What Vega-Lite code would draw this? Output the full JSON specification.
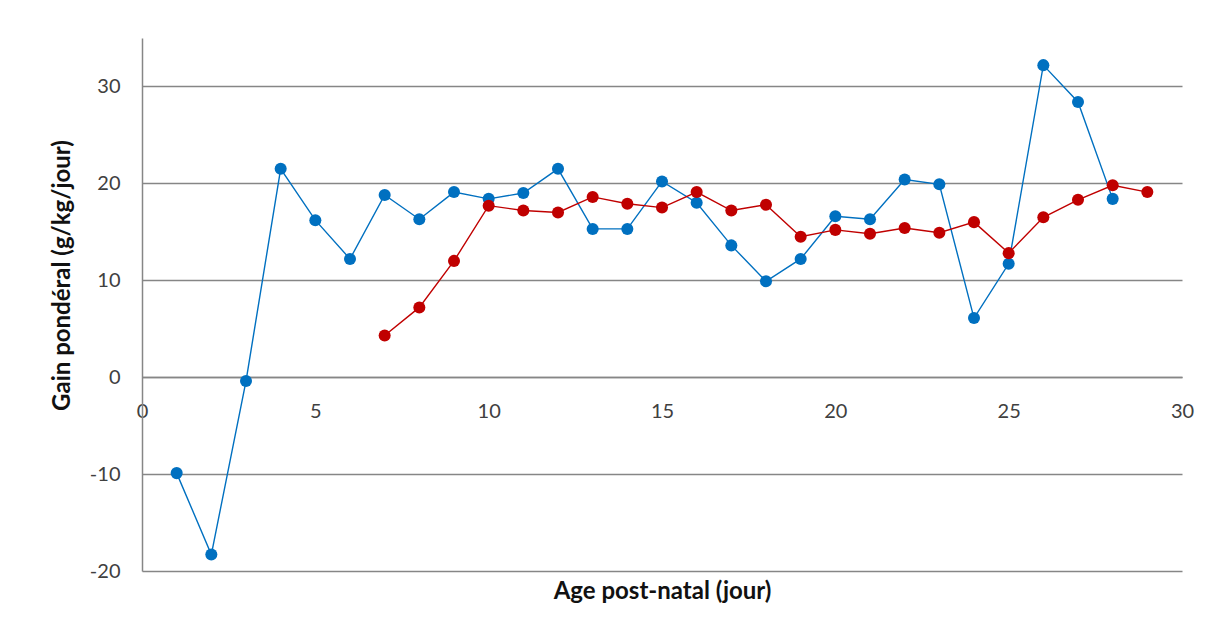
{
  "$schema": "https://vega.github.io/schema/vega-lite/v6.json",
  "width": 1040,
  "height": 533,
  "autosize": "none",
  "padding": {"left": 142, "top": 38, "right": 34, "bottom": 66},
  "background": "white",
  "config": {
    "view": {"stroke": null},
    "font": "Lato"
  },
  "data": {
    "values": [
      {"age": 1, "gain": -9.9, "serie": "A"},
      {"age": 2, "gain": -18.3, "serie": "A"},
      {"age": 3, "gain": -0.4, "serie": "A"},
      {"age": 4, "gain": 21.5, "serie": "A"},
      {"age": 5, "gain": 16.2, "serie": "A"},
      {"age": 6, "gain": 12.2, "serie": "A"},
      {"age": 7, "gain": 18.8, "serie": "A"},
      {"age": 8, "gain": 16.3, "serie": "A"},
      {"age": 9, "gain": 19.1, "serie": "A"},
      {"age": 10, "gain": 18.4, "serie": "A"},
      {"age": 11, "gain": 19.0, "serie": "A"},
      {"age": 12, "gain": 21.5, "serie": "A"},
      {"age": 13, "gain": 15.3, "serie": "A"},
      {"age": 14, "gain": 15.3, "serie": "A"},
      {"age": 15, "gain": 20.2, "serie": "A"},
      {"age": 16, "gain": 18.0, "serie": "A"},
      {"age": 17, "gain": 13.6, "serie": "A"},
      {"age": 18, "gain": 9.9, "serie": "A"},
      {"age": 19, "gain": 12.2, "serie": "A"},
      {"age": 20, "gain": 16.6, "serie": "A"},
      {"age": 21, "gain": 16.3, "serie": "A"},
      {"age": 22, "gain": 20.4, "serie": "A"},
      {"age": 23, "gain": 19.9, "serie": "A"},
      {"age": 24, "gain": 6.1, "serie": "A"},
      {"age": 25, "gain": 11.7, "serie": "A"},
      {"age": 26, "gain": 32.2, "serie": "A"},
      {"age": 27, "gain": 28.4, "serie": "A"},
      {"age": 28, "gain": 18.4, "serie": "A"},
      {"age": 7, "gain": 4.3, "serie": "B"},
      {"age": 8, "gain": 7.2, "serie": "B"},
      {"age": 9, "gain": 12.0, "serie": "B"},
      {"age": 10, "gain": 17.7, "serie": "B"},
      {"age": 11, "gain": 17.2, "serie": "B"},
      {"age": 12, "gain": 17.0, "serie": "B"},
      {"age": 13, "gain": 18.6, "serie": "B"},
      {"age": 14, "gain": 17.9, "serie": "B"},
      {"age": 15, "gain": 17.5, "serie": "B"},
      {"age": 16, "gain": 19.1, "serie": "B"},
      {"age": 17, "gain": 17.2, "serie": "B"},
      {"age": 18, "gain": 17.8, "serie": "B"},
      {"age": 19, "gain": 14.5, "serie": "B"},
      {"age": 20, "gain": 15.2, "serie": "B"},
      {"age": 21, "gain": 14.8, "serie": "B"},
      {"age": 22, "gain": 15.4, "serie": "B"},
      {"age": 23, "gain": 14.9, "serie": "B"},
      {"age": 24, "gain": 16.0, "serie": "B"},
      {"age": 25, "gain": 12.8, "serie": "B"},
      {"age": 26, "gain": 16.5, "serie": "B"},
      {"age": 27, "gain": 18.3, "serie": "B"},
      {"age": 28, "gain": 19.8, "serie": "B"},
      {"age": 29, "gain": 19.1, "serie": "B"}
    ]
  },
  "encoding": {
    "x": {
      "field": "age",
      "type": "quantitative",
      "scale": {"domain": [0, 30], "nice": false},
      "axis": {
        "title": "Age post-natal  (jour)",
        "values": [0, 5, 10, 15, 20, 25, 30],
        "offset": -194,
        "grid": false,
        "ticks": false,
        "domainColor": "#868686",
        "domainWidth": 1.5,
        "labelPadding": 24,
        "labelFontSize": 20,
        "labelColor": "#404040",
        "labelFlush": false,
        "titleFontSize": 24,
        "titleFontWeight": "bold",
        "titleColor": "#111111",
        "titleY": 214,
        "titleBaseline": "middle"
      }
    },
    "y": {
      "field": "gain",
      "type": "quantitative",
      "scale": {"domain": [-20, 35], "nice": false},
      "axis": {
        "title": "Gain pondéral (g/kg/jour)",
        "values": [-20, -10, 0, 10, 20, 30],
        "labelExpr": "'' + datum.value",
        "grid": true,
        "gridColor": "#868686",
        "gridWidth": 1.5,
        "ticks": false,
        "domainColor": "#868686",
        "domainWidth": 1.5,
        "labelPadding": 22,
        "labelFontSize": 20,
        "labelColor": "#404040",
        "titleFontSize": 24,
        "titleFontWeight": "bold",
        "titleColor": "#111111",
        "titleAngle": 270,
        "titleX": -80,
        "titleY": 237,
        "titleAlign": "center",
        "titleBaseline": "middle"
      }
    },
    "color": {
      "field": "serie",
      "type": "nominal",
      "scale": {"domain": ["A", "B"], "range": ["#0070C0", "#C00000"]},
      "legend": null
    }
  },
  "layer": [
    {"mark": {"type": "line", "strokeWidth": 1.4}},
    {"mark": {"type": "circle", "size": 145, "opacity": 1}}
  ]
}
